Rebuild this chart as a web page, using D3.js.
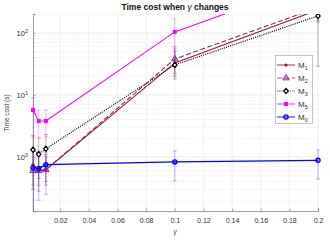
<!DOCTYPE html>
<html><head><meta charset="utf-8">
<script src="https://cdn.jsdelivr.net/npm/d3@7"></script>
<style>body{margin:0;background:#fff}svg{display:block;font-family:"Liberation Sans",Arial,sans-serif}</style>
</head><body><svg id="c" width="330" height="248"></svg>
<script>
const gammas = [0.001, 0.005, 0.01, 0.1, 0.2];
const seriesNames = ["M1", "M2", "M3", "M5", "M0"];
const M1 = [0.75, 0.6, 0.62, 32.8, 235];
const M1lo = [0.3, 0.28, 0.35, 20, 150];
const M1hi = [1.3, 1.2, 1.1, 50, 400];
const M2 = [0.6, 0.6, 0.62, 38, 257];
const M2lo = [0.35, 0.35, 0.4, 22, 160];
const M2hi = [1.0, 1.0, 1.0, 60, 420];
const M3 = [1.31, 1.1, 1.35, 30.5, 188];
const M3lo = [0.6, 0.45, 0.6, 18, 29];
const M3hi = [2.2, 2.0, 2.3, 55, 1200];
const M5 = [5.7, 3.8, 3.8, 104, 700];
const M5lo = [2.1, 2.1, 2.1, 40, 300];
const M5hi = [9, 5.7, 5.7, 170, 1500];
const M0 = [0.67, 0.65, 0.75, 0.83, 0.88];
const M0lo = [0.12, 0.2, 0.25, 0.41, 0.44];
const M0hi = [1.3, 1.25, 1.2, 1.25, 1.3];
const xTicks = [0.02, 0.04, 0.06, 0.08, 0.1, 0.12, 0.14, 0.16, 0.18, 0.2];
const yTicks = [1, 10, 100];

const svg = d3.select("#c");
const L = 33, R = 318, T = 14, B = 211;
const x = d3.scaleLinear().domain([0.001, 0.2]).range([L, R]);
const y = d3.scaleLog().domain([0.134, 202]).range([B, T]);

svg.append("defs").append("clipPath").attr("id", "clip")
  .append("rect").attr("x", L - 5).attr("y", T).attr("width", R - L + 10).attr("height", B - T);

// grid
const g = svg.append("g");
const minor = [];
for (let e = -1; e <= 2; e++) for (let k = 2; k <= 9; k++) { const v = k * Math.pow(10, e); if (v > 0.134 && v < 202) minor.push(v); }
g.selectAll(".mg").data(minor).join("line").attr("x1", L).attr("x2", R)
  .attr("y1", d => y(d)).attr("y2", d => y(d)).attr("stroke", "#dcdcdc").attr("stroke-width", 0.6).attr("stroke-dasharray", "1,1.5");
g.selectAll(".yg").data(yTicks).join("line").attr("x1", L).attr("x2", R)
  .attr("y1", d => y(d)).attr("y2", d => y(d)).attr("stroke", "#e4e4e4").attr("stroke-width", 0.7);
g.selectAll(".xg").data(xTicks).join("line").attr("x1", d => x(d)).attr("x2", d => x(d))
  .attr("y1", T).attr("y2", B).attr("stroke", "#e8e8e8").attr("stroke-width", 0.7);

// axes
const xa = svg.append("g").attr("transform", `translate(0,${B})`)
  .call(d3.axisBottom(x).tickValues(xTicks).tickSize(-2.5).tickPadding(7).tickFormat(d3.format("~g")));
xa.select(".domain").attr("stroke", "#777").attr("stroke-width", 0.7);
xa.selectAll(".tick line").attr("stroke", "#777").attr("stroke-width", 0.6);
xa.selectAll("text").attr("font-size", 7).attr("fill", "#333");

const ya = svg.append("g").attr("transform", `translate(${L},0)`)
  .call(d3.axisLeft(y).tickValues(yTicks).tickSize(-2.5).tickPadding(5).tickFormat(""));
ya.select(".domain").attr("stroke", "#777").attr("stroke-width", 0.7);
ya.selectAll(".tick line").attr("stroke", "#777").attr("stroke-width", 0.6);
ya.selectAll(".tick").each(function (d) {
  const t = d3.select(this).append("text").attr("x", -5).attr("dy", "0.32em").attr("text-anchor", "end")
    .attr("fill", "#333").attr("font-size", 7.5);
  t.append("tspan").text("10");
  t.append("tspan").attr("font-size", 5.5).attr("dy", "-0.6em").text(Math.round(Math.log10(d)));
});
svg.append("g").selectAll("line").data(minor).join("line")
  .attr("x1", L).attr("x2", L + 1.5).attr("y1", d => y(d)).attr("y2", d => y(d)).attr("stroke", "#777").attr("stroke-width", 0.5);

// labels
svg.append("text").attr("x", 175).attr("y", 10).attr("text-anchor", "middle").attr("font-size", 8.5)
  .attr("font-weight", "bold").attr("fill", "#111")
  .call(t => { t.append("tspan").text("Time cost when "); t.append("tspan").attr("font-style", "italic").attr("font-weight", "normal").text("γ"); t.append("tspan").text(" changes"); });
svg.append("text").attr("x", 175).attr("y", 234).attr("text-anchor", "middle").attr("font-size", 6.5).attr("fill", "#333").attr("font-style", "italic").text("γ");
svg.append("text").attr("transform", "translate(9,113) rotate(-90)").attr("text-anchor", "middle").attr("font-size", 6.5).attr("fill", "#333").text("Time cost (s)");

const series = [
  { name: "M1", sub: "1", v: M1, lo: M1lo, hi: M1hi, color: "#A2142F", err: "rgba(162,20,47,0.45)", dash: null, marker: "dot" },
  { name: "M2", sub: "2", v: M2, lo: M2lo, hi: M2hi, color: "#7E2F8E", err: "rgba(126,47,142,0.45)", dash: "5,2.5", marker: "tri" },
  { name: "M3", sub: "3", v: M3, lo: M3lo, hi: M3hi, color: "#000000", err: "rgba(80,80,80,0.5)", dash: "1,1.2", marker: "diamond" },
  { name: "M5", sub: "5", v: M5, lo: M5lo, hi: M5hi, color: "#FF00FF", err: "rgba(255,0,255,0.4)", dash: null, marker: "square" },
  { name: "M0", sub: "0", v: M0, lo: M0lo, hi: M0hi, color: "#0000FF", err: "rgba(0,0,255,0.35)", dash: null, marker: "circle" }
];

function drawMarker(sel, m, color, cx, cy) {
  if (m === "dot") sel.append("circle").attr("cx", cx).attr("cy", cy).attr("r", 1.6).attr("fill", color);
  else if (m === "tri") sel.append("path").attr("d", d3.symbol(d3.symbolTriangle, 18)()).attr("transform", `translate(${cx},${cy})`)
    .attr("fill", "rgba(126,47,142,0.35)").attr("stroke", color).attr("stroke-width", 0.9);
  else if (m === "diamond") sel.append("path").attr("d", "M0,-2.6L2.2,0L0,2.6L-2.2,0Z").attr("transform", `translate(${cx},${cy})`)
    .attr("fill", "#fff").attr("stroke", color).attr("stroke-width", 1.2);
  else if (m === "square") sel.append("rect").attr("x", cx - 2).attr("y", cy - 2).attr("width", 4).attr("height", 4).attr("fill", color);
  else if (m === "circle") sel.append("circle").attr("cx", cx).attr("cy", cy).attr("r", 2.1).attr("fill", "rgba(0,0,255,0.25)")
    .attr("stroke", color).attr("stroke-width", 1.3);
}

const plot = svg.append("g").attr("clip-path", "url(#clip)");
const line = d3.line().x((d, i) => x(gammas[i])).y(d => y(d));
series.forEach(s => {
  const eg = plot.append("g");
  gammas.forEach((gm, i) => {
    const cx = x(gm);
    eg.append("line").attr("x1", cx).attr("x2", cx).attr("y1", y(s.lo[i])).attr("y2", y(s.hi[i])).attr("stroke", s.err).attr("stroke-width", 0.8);
    [s.lo[i], s.hi[i]].forEach(v => eg.append("line").attr("x1", cx - 2).attr("x2", cx + 2).attr("y1", y(v)).attr("y2", y(v)).attr("stroke", s.err).attr("stroke-width", 0.8));
  });
});
series.forEach(s => {
  plot.append("path").datum(s.v).attr("d", line).attr("fill", "none").attr("stroke", s.color)
    .attr("stroke-width", s.name === "M3" ? 1.2 : (s.name === "M0" ? 1.4 : 1.1)).attr("stroke-dasharray", s.dash);
  const mg = plot.append("g");
  s.v.forEach((v, i) => drawMarker(mg, s.marker, s.color, x(gammas[i]), y(v)));
});

// legend
const lg = svg.append("g");
lg.append("rect").attr("x", 275.5).attr("y", 55.5).attr("width", 37).attr("height", 68).attr("fill", "#fff").attr("stroke", "#aaa").attr("stroke-width", 0.7);
series.forEach((s, i) => {
  const ly = 65 + i * 13;
  lg.append("line").attr("x1", 277).attr("x2", 295).attr("y1", ly).attr("y2", ly).attr("stroke", s.color).attr("stroke-opacity", 0.8).attr("stroke-width", 1.1).attr("stroke-dasharray", s.dash);
  drawMarker(lg, s.marker, s.color, 286, ly);
  const t = lg.append("text").attr("x", 298).attr("y", ly + 2.8).attr("font-size", 8).attr("fill", "#333");
  t.append("tspan").text("M");
  t.append("tspan").attr("font-size", 5.5).attr("dy", "2").text(s.sub);
});
</script></body></html>
